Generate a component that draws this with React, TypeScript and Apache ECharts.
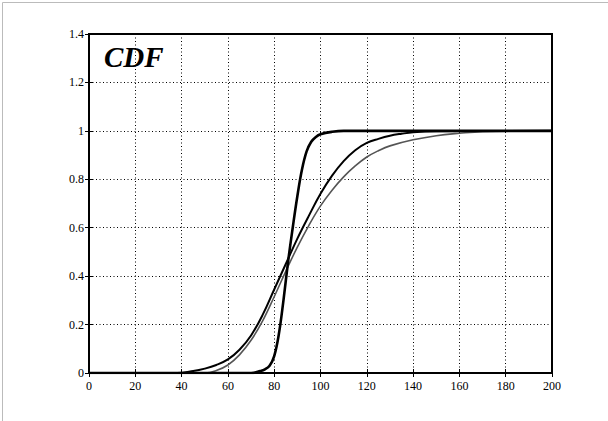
import React, { useEffect, useRef } from "react";
import * as echarts from "echarts";

const xTicks = [0, 20, 40, 60, 80, 100, 120, 140, 160, 180, 200];
const yTickLabels = ["0", "0.2", "0.4", "0.6", "0.8", "1", "1.2", "1.4"];

const steepX = [0, 70, 74, 76, 78, 80, 82, 84, 86, 88, 90, 92, 94, 96, 98, 100, 105, 110, 200];
const steepY = [0, 0, 0.008, 0.015, 0.03, 0.07, 0.16, 0.3, 0.46, 0.6, 0.73, 0.84, 0.915, 0.955, 0.975, 0.986, 0.996, 1, 1];

const wideAX = [0, 38, 45, 50, 55, 60, 65, 70, 75, 80, 85, 90, 95, 100, 105, 110, 115, 120, 125, 130, 135, 140, 150, 200];
const wideAY = [0, 0, 0.008, 0.018, 0.033, 0.056, 0.096, 0.155, 0.24, 0.345, 0.45, 0.555, 0.65, 0.74, 0.815, 0.875, 0.92, 0.95, 0.967, 0.98, 0.988, 0.994, 0.998, 1];

const wideBX = [0, 50, 55, 60, 65, 70, 75, 80, 85, 90, 95, 100, 105, 110, 115, 120, 125, 130, 140, 150, 160, 170, 200];
const wideBY = [0, 0, 0.01, 0.033, 0.075, 0.135, 0.215, 0.315, 0.42, 0.52, 0.61, 0.69, 0.755, 0.81, 0.855, 0.892, 0.918, 0.938, 0.963, 0.98, 0.99, 0.997, 1];

const pairs = (xs: number[], ys: number[]) => xs.map((x, i) => [x, ys[i]]);

export default function App() {
  const ref = useRef<HTMLDivElement>(null);
  useEffect(() => {
    document.body.style.margin = "0";
    const chart = echarts.init(ref.current!, null, { renderer: "svg" });
    const font = "'Liberation Serif', 'DejaVu Serif', serif";
    const grid = { left: 89, top: 34, right: 56, bottom: 48, show: true, borderColor: "#000", borderWidth: 2, backgroundColor: "#fff" };
    const split = { show: true, lineStyle: { color: "#000", type: [1, 2.5] as any, width: 1 } };
    const tick = { show: true, inside: true, length: 4, lineStyle: { color: "#000" } };
    chart.setOption({
      animation: false,
      backgroundColor: "#fff",
      grid,
      xAxis: [
        {
          type: "value", min: 0, max: 200, interval: 20,
          axisLine: { show: true, onZero: false, lineStyle: { color: "#000", width: 2 } },
          axisTick: tick,
          axisLabel: { color: "#000", fontFamily: font, fontSize: 12, margin: 7, formatter: (v: number) => (xTicks.includes(v) ? String(v) : "") },
          splitLine: split,
        },
        {
          type: "value", min: 0, max: 200, interval: 20, position: "top",
          axisLine: { show: true, lineStyle: { color: "#000", width: 2 } },
          axisTick: tick, axisLabel: { show: false }, splitLine: { show: false },
        },
      ],
      yAxis: [
        {
          type: "value", min: 0, max: 1.4, interval: 0.2,
          axisLine: { show: true, onZero: false, lineStyle: { color: "#000", width: 2 } },
          axisTick: tick,
          axisLabel: { color: "#000", fontFamily: font, fontSize: 12, margin: 5, formatter: (v: number) => yTickLabels[Math.round(v / 0.2)] ?? "" },
          splitLine: split,
        },
        {
          type: "value", min: 0, max: 1.4, interval: 0.2, position: "right",
          axisLine: { show: true, lineStyle: { color: "#000", width: 2 } },
          axisTick: tick, axisLabel: { show: false }, splitLine: { show: false },
        },
      ],
      graphic: [
        { type: "rect", left: 0, top: 0, shape: { width: 607, height: 420 }, style: { fill: "none", stroke: "#bbb", lineWidth: 1 }, silent: true },
        { type: "text", left: 104, top: 42, style: { text: "CDF", font: `italic bold 29px ${font}`, fill: "#000" }, z: 10 },
      ],
      series: [
        { type: "line", name: "B", data: pairs(wideBX, wideBY), showSymbol: false, smooth: 0.4, lineStyle: { color: "#555", width: 1.6 }, z: 2 },
        { type: "line", name: "A", data: pairs(wideAX, wideAY), showSymbol: false, smooth: 0.4, lineStyle: { color: "#000", width: 2 }, z: 3 },
        { type: "line", name: "C", data: pairs(steepX, steepY), showSymbol: false, smooth: 0.4, lineStyle: { color: "#000", width: 2.6 }, z: 4 },
      ],
    });
    return () => chart.dispose();
  }, []);
  return <div ref={ref} style={{ width: 608, height: 421, position: "absolute", left: 0, top: 0 }} />;
}
